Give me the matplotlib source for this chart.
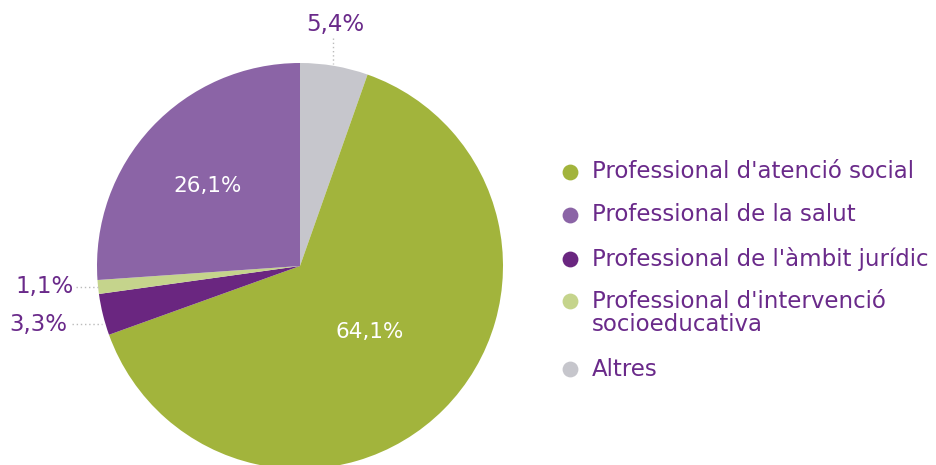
import matplotlib.pyplot as plt

# data
labels = ['Altres', "Professional d'atenció social", "Professional de l'àmbit jurídic",
          "Professional d'intervenció\nsocioeducativa", 'Professional de la salut']
values = [5.4, 64.1, 3.3, 1.1, 26.1]
colors = ['#c6c6cc', '#a2b43c', '#6a2680', '#c5d48c', '#8b64a6']

legend_order = [1, 4, 2, 3, 0]
legend_y = [172, 215, 259, 313, 369]
marker_y = [172, 215, 259, 301, 369]

txt_purple = '#6a2a8a'
W, H = 936, 465

plt.rcParams['font.family'] = ['DejaVu Sans']

fig = plt.figure(figsize=(W / 100, H / 100), dpi=100)
ax = fig.add_axes([0, 0, 1, 1])

cx, cy, r = 300, H - 266, 203
ax.pie(values, colors=colors, startangle=90, counterclock=False,
       center=(cx, cy), radius=r, frame=True,
       wedgeprops={'linewidth': 0})
ax.set_xlim(0, W)
ax.set_ylim(0, H)
ax.set_aspect('equal')
ax.axis('off')

# labels inside
ax.text(208, H - 186, '26,1%', color='white', fontsize=15.5, ha='center', va='center')
ax.text(370, H - 332, '64,1%', color='white', fontsize=15.5, ha='center', va='center')

# outside labels with dotted leaders
ax.text(335, H - 25, '5,4%', color=txt_purple, fontsize=16.5, ha='center', va='center')
ax.plot([333, 333], [H - 38, H - 64], ls=(0, (1, 2)), color='#bbbbbb', lw=1)
ax.text(45, H - 287, '1,1%', color=txt_purple, fontsize=16.5, ha='center', va='center')
ax.plot([76, 98], [H - 287, H - 287], ls=(0, (1, 2)), color='#bbbbbb', lw=1)
ax.text(38, H - 324, '3,3%', color=txt_purple, fontsize=16.5, ha='center', va='center')
ax.plot([72, 102], [H - 324, H - 324], ls=(0, (1, 2)), color='#bbbbbb', lw=1)

# legend
for i, ty, my in zip(legend_order, legend_y, marker_y):
    ax.scatter([570], [H - my], s=130, color=colors[i], linewidths=0)
    ax.text(592, H - ty, labels[i], color=txt_purple, fontsize=16.5,
            ha='left', va='center', linespacing=1.05)

fig.savefig('out.png', dpi=100)
